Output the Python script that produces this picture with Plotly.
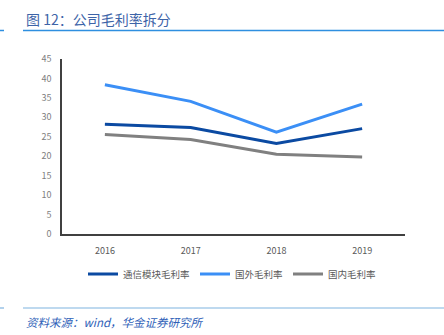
import plotly.graph_objects as go

years = ["2016", "2017", "2018", "2019"]
module_margin = [28.2, 27.4, 23.3, 27.1]
overseas_margin = [38.4, 34.1, 26.2, 33.4]
domestic_margin = [25.6, 24.3, 20.5, 19.8]
y_ticks = [0, 5, 10, 15, 20, 25, 30, 35, 40, 45]

series = [
    ("通信模块毛利率", module_margin, "#0b4aa2"),
    ("国外毛利率", overseas_margin, "#3b8ff6"),
    ("国内毛利率", domestic_margin, "#808080"),
]

FONT = "Noto Sans CJK SC, Noto Sans, sans-serif"

fig = go.Figure()
for name, vals, col in series:
    fig.add_trace(go.Scatter(x=years, y=vals, name=name, mode="lines",
                             line=dict(color=col, width=3)))

W, H = 444, 335
L, R, T, B = 62, 39, 59, 101
PW, PH = W - L - R, H - T - B


def px(x):
    return (x - L) / PW


def py(y):
    return (H - B - y) / PH


fig.update_layout(
    width=W, height=H,
    margin=dict(l=L, r=R, t=T, b=B),
    paper_bgcolor="white", plot_bgcolor="white",
    font=dict(family=FONT, size=9, color="#595959"),
    showlegend=True,
    legend=dict(orientation="h", x=px(232), xanchor="center", y=py(274), yanchor="middle",
                font=dict(size=9.5, color="#595959"), itemwidth=30,
                tracegroupgap=0),
    xaxis=dict(type="category", range=[-0.5, 3.5], showgrid=False,
               showline=True, linecolor="#404040", linewidth=1.5,
               ticks="", tickfont=dict(size=9, color="#595959"), ticklabelstandoff=7),
    yaxis=dict(range=[0, 45], tickvals=y_ticks, showgrid=False,
               showline=True, linecolor="#404040", linewidth=1.5,
               ticks="", tickfont=dict(size=9, color="#808080"), ticklabelstandoff=7,
               zeroline=False),
)

# header and footer rules
for (x0, x1, y, col, w) in [
    (23, 444, 30.5, "#2e8fe0", 1.5),
    (0, 4, 30.5, "#2e8fe0", 1.5),
    (23, 444, 308, "#7fb3e0", 1.2),
    (0, 4, 308, "#7fb3e0", 1.2),
]:
    fig.add_shape(type="line", xref="paper", yref="paper",
                  x0=px(x0), x1=px(x1), y0=py(y), y1=py(y),
                  line=dict(color=col, width=w))

fig.add_annotation(text="图 12：公司毛利率拆分", xref="paper", yref="paper",
                   x=px(24), y=py(19), xanchor="left", yanchor="middle",
                   showarrow=False, font=dict(family=FONT, size=14, color="#3d64a8"))
fig.add_annotation(text="<i>资料来源：wind，华金证券研究所</i>", xref="paper", yref="paper",
                   x=px(24), y=py(322), xanchor="left", yanchor="middle",
                   showarrow=False, font=dict(family=FONT, size=11.5, color="#2f5fb8"))

fig.write_html("out.html")
